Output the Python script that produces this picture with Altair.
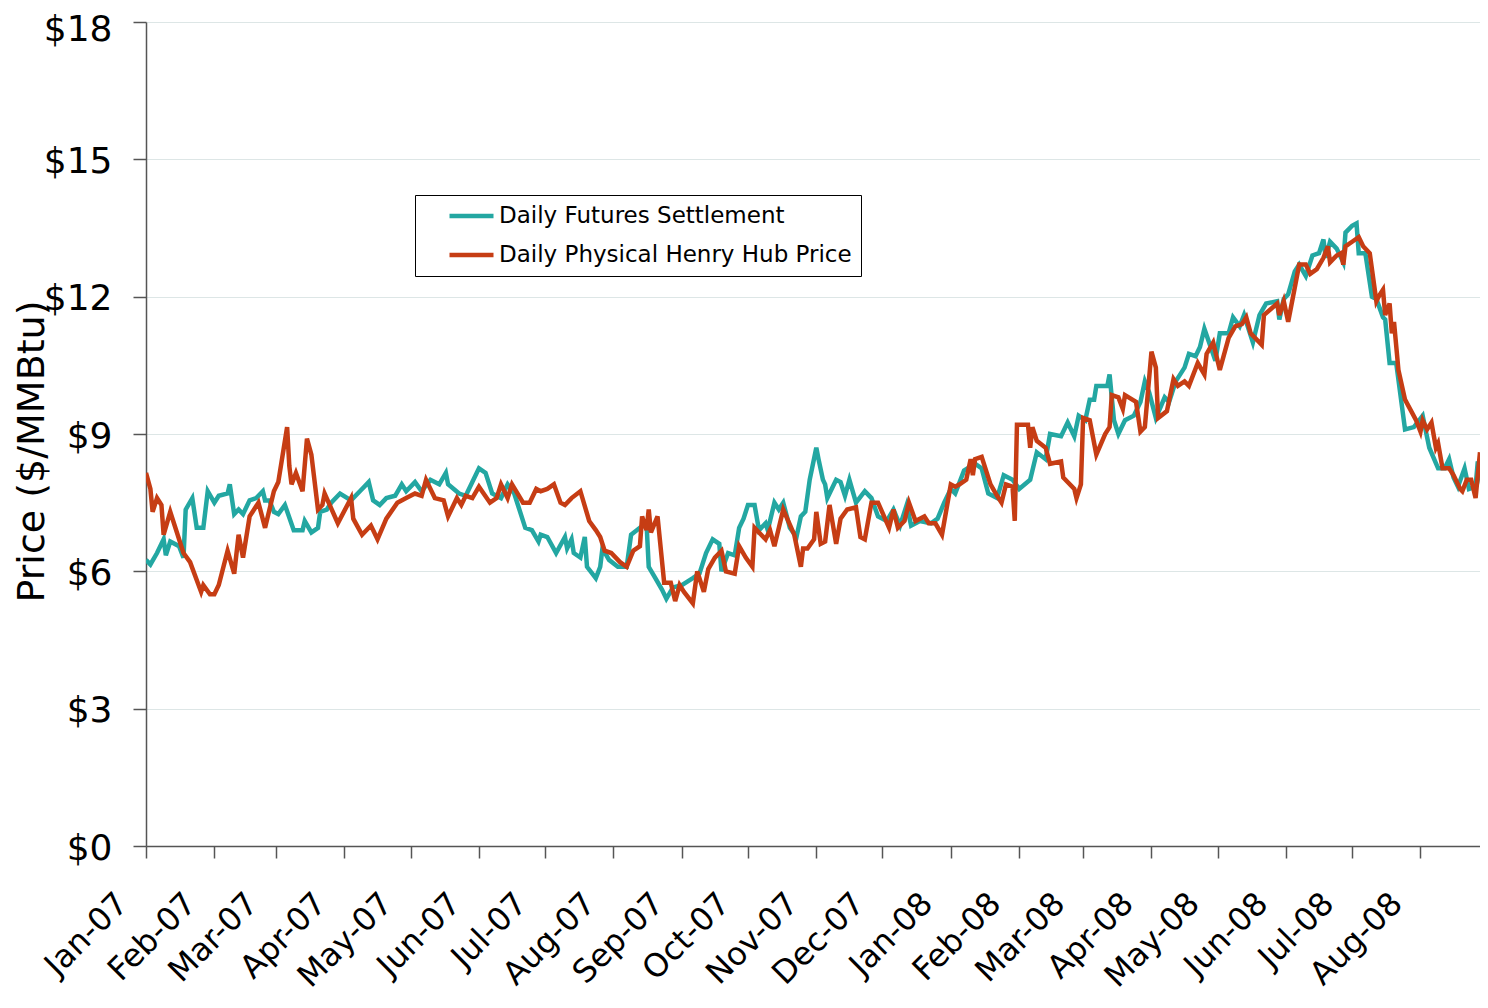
import altair as alt
import pandas as pd

series_names = ["Daily Futures Settlement", "Daily Physical Henry Hub Price"]
series_colors = ["#23A7A2", "#C63D14"]
start_date = "2007-01-01"

# days since 2007-01-01, and $/MMBtu
fut_day = [0, 2, 5, 8, 9, 11, 15, 17, 18, 21, 23, 26, 28, 31, 33, 37, 38, 40, 42, 44,
           47, 50, 53, 54, 56, 58, 60, 63, 67, 71, 72, 75, 78, 79, 82, 84, 88, 93, 97, 101,
           103, 106, 109, 113, 116, 118, 122, 125, 129, 133, 136, 137, 142, 145, 148, 151, 154, 157, 161, 164,
           167, 169, 172, 175, 178, 179, 182, 186, 190, 191, 193, 194, 197, 199, 200, 204, 206, 207, 210, 214,
           218, 220, 224, 227, 228, 231, 234, 236, 239, 243, 248, 251, 254, 257, 260, 261, 264, 267, 269, 271,
           273, 276, 278, 281, 282, 285, 287, 289, 292, 295, 297, 299, 301, 304, 305, 307, 308, 309, 313, 315,
           317, 319, 322, 326, 329, 332, 336, 339, 342, 345, 347, 351, 356, 359, 362, 365, 367, 371, 376, 379,
           382, 386, 389, 393, 396, 401, 404, 408, 410, 415, 418, 421, 423, 426, 428, 430, 431, 436, 437, 439,
           441, 444, 448, 451, 453, 455, 458, 462, 464, 467, 471, 473, 476, 478, 480, 485, 487, 491, 493, 496,
           498, 502, 505, 508, 513, 514, 516, 518, 521, 523, 526, 528, 529, 532, 534, 535, 537, 540, 543, 544,
           547, 549, 550, 553, 556, 558, 561, 562, 564, 567, 571, 575, 579, 582, 586, 589, 591, 593, 595, 598,
           600, 603, 604, 606]
fut_val = [6.25, 6.15, 6.4, 6.7, 6.35, 6.65, 6.55, 6.3, 7.35, 7.6, 6.95, 6.95, 7.75, 7.5, 7.65, 7.7, 7.9, 7.25, 7.35, 7.25,
           7.55, 7.6, 7.75, 7.55, 7.55, 7.3, 7.25, 7.45, 6.9, 6.9, 7.1, 6.85, 6.95, 7.3, 7.35, 7.5, 7.7, 7.55, 7.75, 7.95,
           7.55, 7.45, 7.6, 7.65, 7.9, 7.75, 7.95, 7.75, 8.0, 7.9, 8.15, 7.9, 7.7, 7.65, 7.95, 8.25, 8.15, 7.7, 7.6, 7.9,
           7.7, 7.4, 6.95, 6.9, 6.65, 6.8, 6.75, 6.4, 6.75, 6.5, 6.7, 6.4, 6.3, 6.75, 6.1, 5.85, 6.1, 6.5, 6.25, 6.1,
           6.1, 6.8, 6.95, 7.05, 6.1, 5.85, 5.6, 5.4, 5.65, 5.7, 5.85, 5.95, 6.4, 6.7, 6.6, 6.0, 6.4, 6.35, 6.95, 7.15,
           7.45, 7.45, 6.9, 7.05, 6.9, 7.5, 7.35, 7.5, 6.95, 6.75, 7.2, 7.3, 8.0, 8.7, 8.45, 8.0, 7.9, 7.6, 8.0, 7.95,
           7.65, 8.0, 7.5, 7.75, 7.6, 7.2, 7.1, 7.35, 7.0, 7.45, 7.0, 7.1, 7.05, 7.15, 7.5, 7.8, 7.7, 8.2, 8.35, 8.25,
           7.7, 7.6, 8.1, 8.0, 7.8, 8.0, 8.6, 8.45, 9.0, 8.95, 9.25, 8.95, 9.4, 9.3, 9.75, 9.75, 10.05, 10.05, 10.3, 9.3,
           9.0, 9.3, 9.4, 9.7, 10.15, 9.9, 9.35, 9.8, 9.7, 10.15, 10.45, 10.75, 10.7, 10.9, 11.3, 10.6, 11.2, 11.2, 11.55, 11.35,
           11.6, 11.0, 11.6, 11.85, 11.9, 11.5, 11.95, 12.05, 12.55, 12.7, 12.45, 12.75, 12.9, 12.95, 13.25, 12.85, 13.2, 13.05, 12.75, 13.4,
           13.55, 13.6, 12.95, 12.95, 12.0, 11.95, 11.55, 11.5, 10.55, 10.55, 9.1, 9.15, 9.4, 8.7, 8.25, 8.25, 8.45, 8.05, 7.85, 8.25,
           7.8, 7.85, 8.4, 7.9]

phy_day = [0, 2, 3, 5, 7, 8, 11, 17, 20, 25, 26, 29, 31, 33, 37, 40, 42, 44, 47, 51,
           54, 58, 60, 64, 65, 66, 68, 71, 73, 75, 78, 80, 81, 87, 93, 94, 98, 102, 105, 109,
           114, 118, 122, 125, 127, 130, 131, 135, 137, 141, 143, 145, 148, 151, 156, 159, 161, 164, 166, 171,
           174, 177, 179, 182, 185, 188, 190, 193, 197, 201, 204, 206, 208, 211, 215, 218, 221, 224, 225, 227,
           228, 229, 232, 235, 238, 240, 242, 244, 248, 250, 253, 255, 258, 261, 263, 267, 269, 272, 275, 276,
           279, 281, 283, 285, 289, 294, 297, 298, 300, 303, 304, 306, 308, 310, 313, 315, 318, 322, 324, 326,
           329, 332, 337, 339, 341, 344, 346, 349, 353, 355, 358, 361, 365, 367, 369, 372, 374, 375, 376, 379,
           383, 386, 388, 390, 393, 394, 395, 400, 401, 402, 404, 408, 410, 415, 416, 421, 422, 424, 425, 428,
           431, 435, 437, 438, 441, 443, 444, 449, 451, 453, 456, 458, 459, 463, 466, 468, 471, 473, 477, 480,
           481, 484, 487, 491, 494, 497, 499, 501, 506, 507, 513, 514, 516, 518, 520, 523, 526, 528, 531, 534,
           536, 537, 540, 542, 543, 544, 547, 550, 552, 555, 558, 559, 561, 562, 564, 565, 566, 568, 571, 576,
           578, 579, 581, 583, 585, 586, 588, 591, 593, 596, 597, 599, 601, 603, 605]
phy_val = [8.15, 7.8, 7.3, 7.6, 7.45, 6.8, 7.3, 6.4, 6.2, 5.55, 5.7, 5.5, 5.5, 5.7, 6.45, 5.95, 6.8, 6.3, 7.2, 7.5,
           6.95, 7.75, 7.95, 9.15, 8.3, 7.9, 8.15, 7.75, 8.9, 8.55, 7.35, 7.45, 7.7, 7.05, 7.6, 7.15, 6.8, 7.0, 6.7, 7.15,
           7.5, 7.6, 7.7, 7.65, 8.0, 7.7, 7.6, 7.55, 7.2, 7.6, 7.45, 7.65, 7.6, 7.85, 7.5, 7.6, 7.9, 7.6, 7.9, 7.5,
           7.5, 7.8, 7.75, 7.8, 7.9, 7.5, 7.45, 7.6, 7.75, 7.1, 6.9, 6.75, 6.45, 6.4, 6.2, 6.1, 6.45, 6.55, 7.2, 6.9,
           7.35, 6.85, 7.2, 5.75, 5.75, 5.35, 5.7, 5.55, 5.3, 6.0, 5.55, 6.05, 6.3, 6.45, 6.0, 5.95, 6.55, 6.3, 6.1, 6.95,
           6.8, 6.7, 6.9, 6.55, 7.35, 6.8, 6.1, 6.5, 6.5, 6.7, 7.3, 6.6, 6.65, 7.45, 6.6, 7.15, 7.35, 7.4, 6.75, 6.7,
           7.5, 7.5, 6.95, 7.35, 6.95, 7.1, 7.5, 7.1, 7.2, 7.05, 7.05, 6.8, 7.9, 7.85, 7.9, 8.0, 8.45, 8.1, 8.45, 8.5,
           7.9, 7.65, 7.5, 7.9, 7.85, 7.1, 9.2, 9.2, 8.7, 9.15, 8.85, 8.7, 8.35, 8.4, 8.05, 7.8, 7.6, 7.9, 9.35, 9.3,
           8.55, 9.0, 9.15, 9.85, 9.8, 9.55, 9.85, 9.7, 9.05, 9.15, 10.8, 10.45, 9.35, 9.5, 10.2, 10.05, 10.15, 10.05, 10.55, 10.3,
           10.75, 11.0, 10.4, 11.1, 11.35, 11.4, 11.55, 11.2, 10.95, 11.6, 11.85, 11.6, 11.9, 11.45, 11.95, 12.7, 12.7, 12.5, 12.6, 12.85,
           13.1, 12.75, 12.9, 12.95, 12.7, 13.1, 13.2, 13.3, 13.1, 12.95, 11.9, 12.0, 12.15, 11.6, 11.85, 11.2, 11.45, 10.4, 9.75, 9.3,
           9.05, 9.3, 9.1, 9.25, 8.7, 8.8, 8.25, 8.25, 8.1, 7.8, 7.75, 8.0, 8.0, 7.6, 8.6]

y_ticks = [0, 3, 6, 9, 12, 15, 18]
month_ticks = [(2007, m) for m in range(1, 13)] + [(2008, m) for m in range(1, 9)]

df_f = pd.DataFrame({"day": fut_day, "price": fut_val, "series": series_names[0]})
df_p = pd.DataFrame({"day": phy_day, "price": phy_val, "series": series_names[1]})
df = pd.concat([df_f, df_p], ignore_index=True)
df["date"] = (pd.Timestamp(start_date) + pd.to_timedelta(df["day"], unit="D")).dt.strftime("%Y-%m-%d")
df = df[["date", "price", "series"]]

FONT = "DejaVu Sans"
AXIS_GRAY = "#555555"

x_axis = alt.Axis(
    values=[alt.DateTime(year=y, month=m, date=1, utc=True) for y, m in month_ticks],
    format="%b-%y",
    labelAngle=-45,
    labelAlign="right",
    labelBaseline="middle",
    labelOffset=-24,
    labelPadding=40,
    labelFontSize=32,
    labelFont=FONT,
    labelColor="black",
    labelOverlap=False,
    labelFlush=False,
    tickSize=12,
    tickColor=AXIS_GRAY,
    tickWidth=1.5,
    domainColor=AXIS_GRAY,
    domainWidth=1.5,
    grid=False,
    title=None,
)

y_axis = alt.Axis(
    values=y_ticks,
    labelExpr="'$' + datum.value",
    labelFontSize=36,
    labelFont=FONT,
    labelColor="black",
    labelPadding=21,
    labelOffset={"condition": {"test": "datum.value >= 18", "value": 7}, "value": 2},
    labelFlush=False,
    tickSize=13,
    tickColor=AXIS_GRAY,
    tickWidth=1.5,
    domainColor=AXIS_GRAY,
    domainWidth=1.5,
    grid=True,
    gridColor="#dde6e6",
    gridWidth=1,
    title="Price ($/MMBtu)",
    titleFont=FONT,
    titleFontSize=38,
    titleFontWeight="normal",
    titleColor="black",
    titleAngle=270,
    titleAlign="center",
    titleBaseline="middle",
    titleX=-114,
    titleY=429,
)

legend = alt.Legend(
    orient="none",
    legendX=269,
    legendY=173,
    title=None,
    symbolType="stroke",
    symbolSize=1936,
    symbolStrokeWidth=4.5,
    symbolOffset=23,
    labelOffset=3,
    labelLimit=0,
    labelFontSize=23,
    labelFont=FONT,
    labelColor="black",
    padding=9,
    clipHeight=24,
    rowPadding=15,
    strokeColor="black",
    fillColor="white",
)

chart = (
    alt.Chart(df)
    .mark_line(strokeWidth=4.5, clip=True)
    .encode(
        x=alt.X(
            "date:T",
            scale=alt.Scale(
                type="utc",
                domain=[
                    alt.DateTime(year=2007, month=1, date=1, utc=True),
                    alt.DateTime(year=2008, month=8, date=28, utc=True),
                ],
            ),
            axis=x_axis,
        ),
        y=alt.Y("price:Q", scale=alt.Scale(domain=[0, 18], nice=False), axis=y_axis),
        color=alt.Color(
            "series:N",
            scale=alt.Scale(domain=series_names, range=series_colors),
            legend=legend,
        ),
    )
    .properties(
        width=1334,
        height=824,
        padding={"left": 138, "top": 14, "right": 0, "bottom": 152},
        autosize=alt.AutoSizeParams(type="none"),
        background="white",
    )
    .configure_view(stroke=None)
)

chart.save("out.html", embed_options={"renderer": "svg", "actions": False})
